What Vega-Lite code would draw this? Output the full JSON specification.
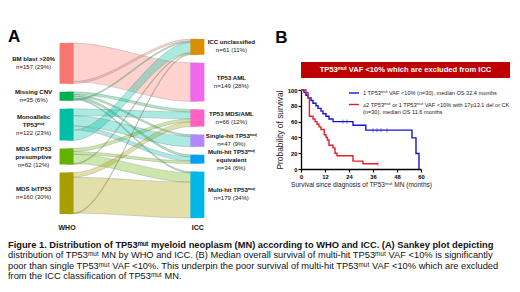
{
  "$schema": "https://vega.github.io/schema/vega-lite/v6.json",
  "background": "white",
  "padding": {"left": 0, "top": 28, "right": 0, "bottom": 0},
  "config": {"font": "Liberation Sans", "view": {"stroke": null}, "axis": {"labelOverlap": false}},
  "resolve": {"scale": {"color": "independent"}},
  "datasets": {
    "flows": [
      {"f": "gap", "t": 0, "n": 15.5, "o": 0},
      {"f": "BM-AML", "src": "BM blast", "t": 0, "n": 149, "o": 1},
      {"f": "BM-ICC", "src": "BM blast", "t": 0, "n": 8, "o": 2},
      {"f": "gap", "t": 0, "n": 31, "o": 3},
      {"f": "MC-MA", "src": "Missing CNV", "t": 0, "n": 10, "o": 4},
      {"f": "MC-SH", "src": "Missing CNV", "t": 0, "n": 7, "o": 5},
      {"f": "MC-ME", "src": "Missing CNV", "t": 0, "n": 8, "o": 6},
      {"f": "MC-MH", "src": "Missing CNV", "t": 0, "n": 5, "o": 7},
      {"f": "MC-ICC", "src": "Missing CNV", "t": 0, "n": 5, "o": 8},
      {"f": "gap", "t": 0, "n": 31, "o": 9},
      {"f": "MO-MA", "src": "Monoallelic", "t": 0, "n": 26, "o": 10},
      {"f": "MO-SH", "src": "Monoallelic", "t": 0, "n": 40, "o": 11},
      {"f": "MO-ME", "src": "Monoallelic", "t": 0, "n": 16, "o": 12},
      {"f": "MO-ICC", "src": "Monoallelic", "t": 0, "n": 40, "o": 13},
      {"f": "gap", "t": 0, "n": 31, "o": 14},
      {"f": "PR-MA", "src": "Presumptive", "t": 0, "n": 12, "o": 15},
      {"f": "PR-ME", "src": "Presumptive", "t": 0, "n": 10, "o": 16},
      {"f": "PR-MH", "src": "Presumptive", "t": 0, "n": 36, "o": 17},
      {"f": "PR-ICC", "src": "Presumptive", "t": 0, "n": 4, "o": 18},
      {"f": "gap", "t": 0, "n": 31, "o": 19},
      {"f": "BI-MA", "src": "MDS bi", "t": 0, "n": 18, "o": 20},
      {"f": "BI-MH", "src": "MDS bi", "t": 0, "n": 138, "o": 21},
      {"f": "BI-ICC", "src": "MDS bi", "t": 0, "n": 4, "o": 22},
      {"f": "BM-ICC", "src": "BM blast", "t": 1, "n": 8, "o": 0},
      {"f": "MC-ICC", "src": "Missing CNV", "t": 1, "n": 5, "o": 1},
      {"f": "MO-ICC", "src": "Monoallelic", "t": 1, "n": 40, "o": 2},
      {"f": "PR-ICC", "src": "Presumptive", "t": 1, "n": 4, "o": 3},
      {"f": "BI-ICC", "src": "MDS bi", "t": 1, "n": 4, "o": 4},
      {"f": "gap", "t": 1, "n": 31, "o": 5},
      {"f": "BM-AML", "src": "BM blast", "t": 1, "n": 149, "o": 6},
      {"f": "gap", "t": 1, "n": 31, "o": 7},
      {"f": "MC-MA", "src": "Missing CNV", "t": 1, "n": 10, "o": 8},
      {"f": "MO-MA", "src": "Monoallelic", "t": 1, "n": 26, "o": 9},
      {"f": "PR-MA", "src": "Presumptive", "t": 1, "n": 12, "o": 10},
      {"f": "BI-MA", "src": "MDS bi", "t": 1, "n": 18, "o": 11},
      {"f": "gap", "t": 1, "n": 31, "o": 12},
      {"f": "MC-SH", "src": "Missing CNV", "t": 1, "n": 7, "o": 13},
      {"f": "MO-SH", "src": "Monoallelic", "t": 1, "n": 40, "o": 14},
      {"f": "gap", "t": 1, "n": 31, "o": 15},
      {"f": "MC-ME", "src": "Missing CNV", "t": 1, "n": 8, "o": 16},
      {"f": "MO-ME", "src": "Monoallelic", "t": 1, "n": 16, "o": 17},
      {"f": "PR-ME", "src": "Presumptive", "t": 1, "n": 10, "o": 18},
      {"f": "gap", "t": 1, "n": 31, "o": 19},
      {"f": "MC-MH", "src": "Missing CNV", "t": 1, "n": 5, "o": 20},
      {"f": "PR-MH", "src": "Presumptive", "t": 1, "n": 36, "o": 21},
      {"f": "BI-MH", "src": "MDS bi", "t": 1, "n": 138, "o": 22}
    ],
    "nodes": [
      {"node": "gap", "t": 0, "n": 15.5, "o": 0},
      {"node": "BM blast", "t": 0, "n": 157, "o": 1, "nm": ["BM blast >20%"], "ct": "n=157 (29%)"},
      {"node": "gap", "t": 0, "n": 31, "o": 2},
      {"node": "Missing CNV", "t": 0, "n": 35, "o": 3, "nm": ["Missing CNV"], "ct": "n=35 (6%)"},
      {"node": "gap", "t": 0, "n": 31, "o": 4},
      {"node": "Monoallelic", "t": 0, "n": 122, "o": 5, "nm": ["Monoallelic", "TP53ᵐᵘᵗ"], "ct": "n=122 (23%)"},
      {"node": "gap", "t": 0, "n": 31, "o": 6},
      {"node": "Presumptive", "t": 0, "n": 62, "o": 7, "nm": ["MDS biTP53", "presumptive"], "ct": "n=62 (12%)"},
      {"node": "gap", "t": 0, "n": 31, "o": 8},
      {"node": "MDS bi", "t": 0, "n": 160, "o": 9, "nm": ["MDS biTP53"], "ct": "n=160 (30%)"},
      {"node": "ICC unclassified", "t": 1, "n": 61, "o": 0, "nm": ["ICC unclassified"], "ct": "n=61 (11%)"},
      {"node": "gap", "t": 1, "n": 31, "o": 1},
      {"node": "TP53 AML", "t": 1, "n": 149, "o": 2, "nm": ["TP53 AML"], "ct": "n=149 (28%)"},
      {"node": "gap", "t": 1, "n": 31, "o": 3},
      {"node": "TP53 MDS/AML", "t": 1, "n": 66, "o": 4, "nm": ["TP53 MDS/AML"], "ct": "n=66 (12%)"},
      {"node": "gap", "t": 1, "n": 31, "o": 5},
      {"node": "Single-hit", "t": 1, "n": 47, "o": 6, "nm": ["Single-hit TP53ᵐᵘᵗ"], "ct": "n=47 (9%)"},
      {"node": "gap", "t": 1, "n": 31, "o": 7},
      {"node": "Multi-hit equivalent", "t": 1, "n": 34, "o": 8, "nm": ["Multi-hit TP53ᵐᵘᵗ", "equivalent"], "ct": "n=34 (6%)"},
      {"node": "gap", "t": 1, "n": 31, "o": 9},
      {"node": "Multi-hit", "t": 1, "n": 179, "o": 10, "nm": ["Multi-hit TP53ᵐᵘᵗ"], "ct": "n=179 (34%)"}
    ],
    "km": [
      {"s": "single", "m": 0, "p": 100}, {"s": "single", "m": 1.5, "p": 96.7}, {"s": "single", "m": 2.5, "p": 93.3},
      {"s": "single", "m": 3.5, "p": 90}, {"s": "single", "m": 5, "p": 86.7}, {"s": "single", "m": 6, "p": 83.3},
      {"s": "single", "m": 7.5, "p": 80}, {"s": "single", "m": 8.5, "p": 76.7}, {"s": "single", "m": 10, "p": 73.3},
      {"s": "single", "m": 11, "p": 70}, {"s": "single", "m": 12.5, "p": 66.7}, {"s": "single", "m": 14, "p": 63.3},
      {"s": "single", "m": 16, "p": 60}, {"s": "single", "m": 26, "p": 55.4}, {"s": "single", "m": 32.4, "p": 49.2},
      {"s": "single", "m": 55.5, "p": 39.4}, {"s": "single", "m": 57.5, "p": 19.7}, {"s": "single", "m": 59, "p": 0},
      {"s": "multi", "m": 0, "p": 100}, {"s": "multi", "m": 2.5, "p": 96.7}, {"s": "multi", "m": 3.5, "p": 90},
      {"s": "multi", "m": 4.2, "p": 66.7}, {"s": "multi", "m": 6, "p": 63.3}, {"s": "multi", "m": 7, "p": 60},
      {"s": "multi", "m": 8, "p": 56.7}, {"s": "multi", "m": 9, "p": 53.3}, {"s": "multi", "m": 10, "p": 50},
      {"s": "multi", "m": 11.6, "p": 43.3}, {"s": "multi", "m": 12.5, "p": 40}, {"s": "multi", "m": 13.2, "p": 36.7},
      {"s": "multi", "m": 14, "p": 30}, {"s": "multi", "m": 16, "p": 26.7}, {"s": "multi", "m": 17, "p": 20},
      {"s": "multi", "m": 18, "p": 16.7}, {"s": "multi", "m": 26, "p": 10}, {"s": "multi", "m": 31, "p": 6.7},
      {"s": "multi", "m": 38.5, "p": 6.7}
    ],
    "cens": [
      {"s": "single", "m": 21, "p": 60}, {"s": "single", "m": 23, "p": 60},
      {"s": "single", "m": 36, "p": 49.2}, {"s": "single", "m": 38, "p": 49.2}, {"s": "single", "m": 40, "p": 49.2}, {"s": "single", "m": 43, "p": 49.2},
      {"s": "multi", "m": 38.5, "p": 6.7}
    ]
  },
  "title": {
    "text": "Figure 1. Distribution of TP53ᵐᵘᵗ myeloid neoplasm (MN) according to WHO and ICC. (A) Sankey plot depicting",
    "subtitle": [
      "distribution of TP53ᵐᵘᵗ MN by WHO and ICC. (B) Median overall survival of multi-hit TP53ᵐᵘᵗ VAF <10% is significantly",
      "poor than single TP53ᵐᵘᵗ VAF <10%. This underpin the poor survival of multi-hit TP53ᵐᵘᵗ VAF <10% which are excluded",
      "from the ICC classification of TP53ᵐᵘᵗ MN."
    ],
    "orient": "bottom",
    "anchor": "start",
    "frame": "group",
    "dx": 8,
    "offset": 11,
    "fontSize": 9.3,
    "fontWeight": "bold",
    "color": "#111",
    "subtitleFontSize": 9.3,
    "subtitleColor": "#111",
    "subtitleLineHeight": 10.3,
    "subtitlePadding": 1,
    "subtitleFont": "Liberation Sans",
    "font": "Liberation Sans"
  },
  "bounds": "flush",
  "spacing": 39,
  "hconcat": [
    {
      "width": 262,
      "height": 179,
      "title": {"text": "A", "anchor": "start", "fontSize": 17, "fontWeight": "bold", "dx": 8, "offset": -8, "color": "#000"},
      "encoding": {
        "x": {
          "field": "t", "type": "quantitative",
          "scale": {"domain": [-0.4706, 1.4559], "nice": false, "zero": false},
          "axis": {"values": [0, 1], "labelExpr": "datum.value === 0 ? 'WHO' : 'ICC'", "domain": false, "ticks": false, "grid": false, "title": null, "labelFontWeight": "bold", "labelFontSize": 7, "labelColor": "#111", "labelPadding": 5, "labelFlush": false}
        }
      },
      "layer": [
        {
          "data": {"name": "flows"},
          "transform": [
            {"stack": "n", "groupby": ["t"], "sort": [{"field": "o"}], "as": ["top", "bot"]},
            {"filter": {"not": {"field": "f", "equal": "gap"}}},
            {"fold": ["top", "bot"], "as": ["edge", "v"]},
            {"impute": "v", "key": "t", "keyvals": [0, 0.0515, 0.9485, 1], "groupby": ["f", "src", "edge"], "method": "mean", "frame": [0, 0]},
            {"window": [{"op": "mean", "field": "v", "as": "vv"}], "frame": [-1, 1], "sort": [{"field": "t"}], "groupby": ["f", "src", "edge"], "ignorePeers": true},
            {"pivot": "edge", "value": "vv", "groupby": ["f", "src", "t"]}
          ],
          "mark": {"type": "area", "interpolate": "monotone", "fillOpacity": 0.33, "stroke": "#666", "strokeWidth": 0.45, "strokeOpacity": 0.55},
          "encoding": {
            "y": {"field": "top", "type": "quantitative", "scale": {"domain": [0, 691], "reverse": true, "nice": false, "zero": false}, "axis": null},
            "y2": {"field": "bot"},
            "color": {
              "field": "src", "type": "nominal", "legend": null,
              "scale": {
                "domain": ["BM blast", "Missing CNV", "Monoallelic", "Presumptive", "MDS bi", "ICC unclassified", "TP53 AML", "TP53 MDS/AML", "Single-hit", "Multi-hit equivalent", "Multi-hit"],
                "range": ["#F8766D", "#00B050", "#00BFA5", "#64B200", "#A99E00", "#DB8E00", "#EF67EB", "#FF61C3", "#B385FF", "#00A1F5", "#00B8E7"]
              }
            },
            "detail": {"field": "f"}
          }
        },
        {
          "data": {"name": "nodes"},
          "transform": [
            {"stack": "n", "groupby": ["t"], "sort": [{"field": "o"}], "as": ["y0", "y1"]},
            {"filter": {"not": {"field": "node", "equal": "gap"}}}
          ],
          "mark": {"type": "bar", "width": 14, "orient": "vertical"},
          "encoding": {
            "y": {"field": "y0", "type": "quantitative", "scale": {"domain": [0, 691], "reverse": true, "nice": false, "zero": false}, "axis": null},
            "y2": {"field": "y1"},
            "color": {"field": "node", "type": "nominal", "legend": null}
          }
        },
        {
          "data": {"name": "nodes"},
          "transform": [
            {"stack": "n", "groupby": ["t"], "sort": [{"field": "o"}], "as": ["y0", "y1"]},
            {"filter": {"not": {"field": "node", "equal": "gap"}}},
            {"fold": ["y0", "y1"], "as": ["e", "v"]},
            {"joinaggregate": [{"op": "mean", "field": "v", "as": "yc"}], "groupby": ["node"]},
            {"filter": {"field": "e", "equal": "y0"}}
          ],
          "encoding": {
            "y": {"field": "yc", "type": "quantitative", "scale": {"domain": [0, 691], "reverse": true, "nice": false, "zero": false}, "axis": null}
          },
          "layer": [
            {"transform": [{"filter": {"field": "node", "oneOf": ["BM blast", "Missing CNV", "MDS bi"]}}], "mark": {"type": "text", "fontWeight": "bold", "fontSize": 6.1, "lineHeight": 8, "dx": -33, "dy": -4.5, "color": "#111"}, "encoding": {"text": {"field": "nm", "type": "nominal"}}},
            {"transform": [{"filter": {"field": "node", "oneOf": ["BM blast", "Missing CNV", "MDS bi"]}}], "mark": {"type": "text", "fontSize": 6.1, "dx": -33, "dy": 3.5, "color": "#222"}, "encoding": {"text": {"field": "ct", "type": "nominal"}}},
            {"transform": [{"filter": {"field": "node", "oneOf": ["Monoallelic", "Presumptive"]}}], "mark": {"type": "text", "fontWeight": "bold", "fontSize": 6.1, "lineHeight": 8, "dx": -33, "dy": -7.5, "color": "#111"}, "encoding": {"text": {"field": "nm", "type": "nominal"}}},
            {"transform": [{"filter": {"field": "node", "oneOf": ["Monoallelic", "Presumptive"]}}], "mark": {"type": "text", "fontSize": 6.1, "dx": -33, "dy": 8.5, "color": "#222"}, "encoding": {"text": {"field": "ct", "type": "nominal"}}},
            {"transform": [{"filter": {"field": "node", "oneOf": ["ICC unclassified", "TP53 AML", "TP53 MDS/AML", "Single-hit", "Multi-hit"]}}], "mark": {"type": "text", "fontWeight": "bold", "fontSize": 6.1, "lineHeight": 8, "dx": 34, "dy": -4.5, "color": "#111"}, "encoding": {"text": {"field": "nm", "type": "nominal"}}},
            {"transform": [{"filter": {"field": "node", "oneOf": ["ICC unclassified", "TP53 AML", "TP53 MDS/AML", "Single-hit", "Multi-hit"]}}], "mark": {"type": "text", "fontSize": 6.1, "dx": 34, "dy": 3.5, "color": "#222"}, "encoding": {"text": {"field": "ct", "type": "nominal"}}},
            {"transform": [{"filter": {"field": "node", "equal": "Multi-hit equivalent"}}], "mark": {"type": "text", "fontWeight": "bold", "fontSize": 6.1, "lineHeight": 8, "dx": 34, "dy": -7.5, "color": "#111"}, "encoding": {"text": {"field": "nm", "type": "nominal"}}},
            {"transform": [{"filter": {"field": "node", "equal": "Multi-hit equivalent"}}], "mark": {"type": "text", "fontSize": 6.1, "dx": 34, "dy": 8.5, "color": "#222"}, "encoding": {"text": {"field": "ct", "type": "nominal"}}}
          ]
        }
      ]
    },
    {
      "title": {"text": "B", "anchor": "start", "fontSize": 17, "fontWeight": "bold", "dx": 0, "offset": -8, "color": "#000"},
      "bounds": "flush",
      "spacing": 12,
      "vconcat": [
        {
          "width": 209,
          "height": 11,
          "data": {"values": [{"h": ""}]},
          "mark": {"type": "text", "color": "white"},
          "encoding": {"text": {"field": "h", "type": "nominal"}}
        },
        {
          "width": 209,
          "height": 16,
          "view": {"fill": "#C00000", "stroke": null},
          "data": {"values": [{"h": "TP53ᵐᵘᵗ VAF <10% which are excluded from ICC"}]},
          "mark": {"type": "text", "color": "white", "fontWeight": "bold", "fontSize": 7.6},
          "encoding": {"text": {"field": "h", "type": "nominal"}}
        },
        {
          "width": 120,
          "height": 79,
          "encoding": {
            "x": {
              "field": "m", "type": "quantitative", "scale": {"domain": [0, 60], "nice": false},
              "axis": {"values": [0, 12, 24, 36, 48, 60], "labelOverlap": false, "labelFlush": false, "title": "Survival since diagnosis of TP53ᵐᵘᵗ MN (months)", "titleFontSize": 6.5, "titleFontWeight": "normal", "titlePadding": 3, "titleColor": "#222", "labelFontSize": 5.8, "labelFontWeight": "bold", "labelColor": "#000", "labelPadding": 1, "tickSize": 3, "tickWidth": 1.2, "tickColor": "#000", "domainWidth": 1.3, "domainColor": "#000", "grid": false}
            },
            "y": {
              "field": "p", "type": "quantitative", "scale": {"domain": [0, 100], "nice": false},
              "axis": {"values": [0, 20, 40, 60, 80, 100], "labelOverlap": false, "labelFlush": false, "title": "Probability of survival", "titleFontSize": 8.4, "titleFontWeight": "normal", "titlePadding": 3, "titleColor": "#222", "labelFontSize": 5.8, "labelFontWeight": "bold", "labelColor": "#000", "labelPadding": 1, "tickSize": 3, "tickWidth": 1.2, "tickColor": "#000", "domainWidth": 1.3, "domainColor": "#000", "grid": false}
            }
          },
          "layer": [
            {
              "data": {"name": "km"},
              "mark": {"type": "line", "interpolate": "step-after", "strokeWidth": 1.4},
              "encoding": {
                "color": {
                  "field": "s", "type": "nominal",
                  "scale": {"domain": ["single", "multi"], "range": ["#1616D0", "#E0202A"]},
                  "legend": {
                    "orient": "none", "legendX": 47, "legendY": 48, "title": null,
                    "symbolType": "stroke", "symbolStrokeWidth": 1.4, "symbolSize": 100,
                    "labelFontSize": 5.6, "labelLimit": 400, "labelColor": "#222", "labelOffset": 3, "rowPadding": 1.5,
                    "labelExpr": "datum.label == 'single' ? '1 TP53ᵐᵘᵗ VAF <10% (n=30), median OS 32.4 months' : ['≥2 TP53ᵐᵘᵗ or 1 TP53ᵐᵘᵗ VAF <10%  with 17p13.1 del or CK', '\u00a0\u00a0\u00a0\u00a0\u00a0\u00a0\u00a0\u00a0\u00a0\u00a0\u00a0\u00a0\u00a0\u00a0\u00a0\u00a0(n=30), median OS 11.6 months']"
                  }
                }
              }
            },
            {
              "data": {"name": "cens"},
              "transform": [{"filter": {"field": "s", "equal": "single"}}],
              "mark": {"type": "tick", "orient": "vertical", "size": 4, "thickness": 0.8, "color": "#1616D0"}
            },
            {
              "data": {"name": "cens"},
              "transform": [{"filter": {"field": "s", "equal": "multi"}}],
              "mark": {"type": "tick", "orient": "vertical", "size": 4, "thickness": 0.8, "color": "#E0202A"}
            },
            {
              "data": {"values": [{"lab": "P = 0.002"}]},
              "mark": {"type": "text", "fontSize": 7.7, "color": "#222"},
              "encoding": {"x": {"datum": 37.5, "type": "quantitative"}, "y": {"datum": 33, "type": "quantitative"}, "text": {"field": "lab", "type": "nominal"}}
            }
          ]
        }
      ]
    }
  ]
}
